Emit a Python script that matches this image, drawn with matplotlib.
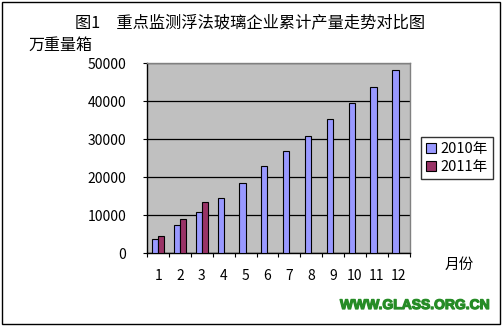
import matplotlib
import matplotlib.pyplot as plt
import matplotlib.patheffects as pe
import numpy as np

matplotlib.use("Agg")

plt.rcParams["font.family"] = ["Noto Sans CJK SC", "DejaVu Sans"]

months = ["1", "2", "3", "4", "5", "6", "7", "8", "9", "10", "11", "12"]
output_2010 = [3700, 7400, 11000, 14500, 18400, 22900, 26800, 31000, 35300, 39500, 43700, 48200]
output_2011 = [4500, 9000, 13400]
y_ticks = [0, 10000, 20000, 30000, 40000, 50000]

W, H = 504, 327
fig = plt.figure(figsize=(W / 100, H / 100), dpi=100)
fig.patch.set_facecolor("white")

# outer chart border
fig.add_artist(plt.Rectangle((1.5 / W, 1 - 324 / H), 498.5 / W, 322 / H,
                             transform=fig.transFigure, fill=False,
                             edgecolor="black", linewidth=1))

ax = fig.add_axes([147.3 / W, 1 - 253.3 / H, 262.2 / W, 190 / H])
ax.set_facecolor("#C0C0C0")

x = np.arange(len(months))
bw = 0.286
ax.bar(x - bw / 2, output_2010, bw, color="#9999FF", edgecolor="black",
       linewidth=0.8, label="2010年", zorder=3)
ax.bar(x[:len(output_2011)] + bw / 2, output_2011, bw, color="#993366",
       edgecolor="black", linewidth=0.8, label="2011年", zorder=3)

ax.set_xlim(-0.5, len(months) - 0.5)
ax.set_ylim(0, 50000)
ax.set_yticks(y_ticks)
ax.set_yticklabels([str(v) for v in y_ticks], fontsize=10)
ax.tick_params(axis="y", length=3, width=0.8, pad=12)
ax.set_xticks(x)
ax.set_xticklabels(months, fontsize=10)
ax.set_xticks(np.arange(-0.5, len(months)), minor=True)
ax.tick_params(axis="x", which="major", length=0, pad=11)
ax.tick_params(axis="x", which="minor", length=3, width=0.8)
ax.yaxis.grid(True, color="black", linewidth=0.9, zorder=1)
ax.set_axisbelow(True)

for side in ["left", "bottom"]:
    ax.spines[side].set_color("black")
    ax.spines[side].set_linewidth(1)
for side in ["top", "right"]:
    ax.spines[side].set_color("#808080")
    ax.spines[side].set_linewidth(1)

fig.text(250 / W, 1 - 23 / H, "图1　重点监测浮法玻璃企业累计产量走势对比图",
         ha="center", va="center", fontsize=11.7)
fig.text(28 / W, 1 - 45 / H, "万重量箱", ha="left", va="center", fontsize=11.5)
fig.text(459 / W, 1 - 265 / H, "月份", ha="center", va="center", fontsize=10.5)
fig.text(490 / W, 1 - 305 / H, "WWW.GLASS.ORG.CN", ha="right", va="center",
         fontsize=10, fontweight="bold", color="#268C26",
         family=["Liberation Sans", "DejaVu Sans"],
         path_effects=[pe.withStroke(linewidth=0.9, foreground="#268C26")])

leg = fig.legend(loc="upper left", bbox_to_anchor=(420.7 / W, 1 - 136.7 / H),
                 fontsize=10.5, frameon=True, fancybox=False, handlelength=0.7,
                 handleheight=0.7, handletextpad=0.3, borderpad=0.35,
                 labelspacing=0.3, borderaxespad=0)
leg.get_frame().set_edgecolor("black")
leg.get_frame().set_linewidth(1)

fig.savefig("out.png", dpi=100)
